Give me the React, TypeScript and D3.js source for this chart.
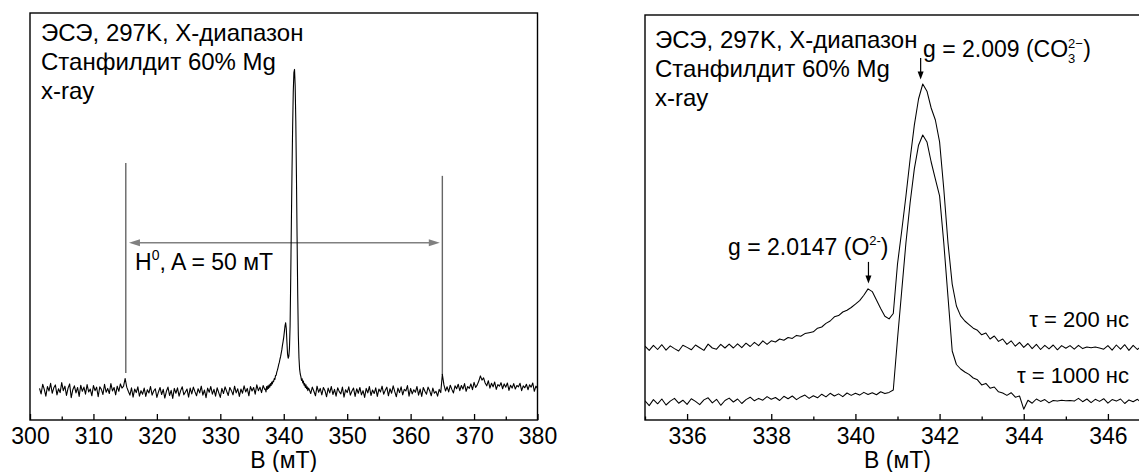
import { useEffect, useRef } from "react";
import * as d3 from "d3";

// ---- left spectrum: 300..380 mT, wide scan ----
// noise before the signal, 301.5..337.0 step 0.25
const leftLowStart = 301.5;
const leftLow = [
  0.5, -1.2, 1.8, 0.2, -1.9, 1.1, -0.3, 2.1, -1.0, 0.7, 1.6, -1.5, 0.4, -0.8, 2.3, -0.2,
  1.2, -1.7, 0.6, 1.9, -2.4, 0.1, 1.3, -0.9, 0.8, -2.0, 1.5, -0.4, 0.9, -1.3, 1.7, -0.6,
  0.3, -1.8, 1.4, -0.2, 0.9, -2.1, 1.0, 0.2, -1.4, 1.8, -0.7, 0.5, -1.1, 2.0, -0.3, 0.8,
  -1.5, 1.2, -0.4, 1.9, 0.6, 1.2, 3.6, 0.9, -0.4, -1.6, 0.7, -2.2, 0.3, -0.8, 1.0, -1.9,
  -0.2, -1.3, 0.6, -2.0, 0.1, -0.9, 1.1, -1.6, -0.3, 0.4, -2.3, -0.6, 0.8, -1.4, 0.2, -2.5,
  -0.4, 0.9, -1.7, -0.1, -2.6, 0.5, -1.0, 0.7, -1.9, -0.2, 1.0, -1.5, -0.6, 0.3, -2.2, 0.6,
  -1.2, 0.9, -0.5, -1.8, 0.4, -0.9, 1.2, -1.6, 0.0, -2.4, 0.6, -0.7, 1.1, -1.3, 0.2, -1.9,
  0.7, -0.8, -2.3, 0.5, -1.1, 1.0, -0.4, -1.7, 0.8, -0.2, -1.5, 1.2, -0.9, 0.4, -2.0, 0.3,
  -1.0, 1.3, -0.6, 0.5, -1.8, 1.1, -0.3, 0.8, -1.3, 1.6, -0.2, 0.9, -0.8, 1.4, 0.2,
];
// signal region, 337.1..343.9 step 0.1
const leftPeakStart = 337.1;
const leftPeak = [
  0.3, -0.6, 1.1, 0.2, 1.3, 0.5, 1.6, 0.9, 2.0,
  1.4, 2.5, 1.9, 2.8, 2.6, 3.6, 3.3, 4.5, 4.6, 5.6,
  6.2, 7.0, 7.9, 8.6, 9.6, 10.4, 11.5, 12.6, 14.0, 15.2,
  16.5, 18.2, 20.0, 21.0, 19.2, 15.0, 11.2, 9.9, 10.5, 13.0,
  20.0, 35.0, 52.0, 68.0, 82.0, 93.0, 99.0, 100.0, 95.0, 84.0,
  67.0, 48.0, 30.0, 17.0, 10.0, 6.5, 5.0, 4.2, 3.0, 3.5,
  2.2, 2.8, 1.5, 2.0, 0.8, 1.6, 0.4, 1.0, -0.2, 0.6,
];
// noise after the signal, 344.0..380.0 step 0.25
const leftHighStart = 344.0;
const leftHigh = [
  0.3, -1.1, 0.9, -0.4, -1.8, 1.2, -0.7, 0.5, -1.5, 0.8, -0.2, -2.1, 0.6, -0.9, 1.1, -1.4,
  0.2, -1.9, 0.7, -0.5, -1.2, 0.9, -2.2, 0.1, -0.8, 1.0, -1.6, -0.3, 0.6, -2.0, 0.4, -1.0,
  0.8, -1.5, -0.2, -2.3, 0.5, -0.9, 1.1, -1.7, 0.0, -1.1, 0.7, -2.0, 0.3, -0.6, 1.2, -1.3,
  -0.1, 0.9, -1.8, 0.4, -1.0, 1.3, -0.5, -2.1, 0.6, -0.8, 1.0, -1.5, 0.2, -0.3, 1.4, -1.9,
  0.5, -1.2, 0.1, -0.7, 1.1, -1.6, 0.3, -2.0, 0.8, -0.4, -1.3, 0.9, -0.2, -1.8, 0.6, -1.0,
  -0.4, -1.9, 0.2, -0.8, 4.9, 1.6, -0.3, 1.0, -0.6, 1.5, 0.2, -0.9, 1.3, 0.4, 1.8, -0.2,
  1.4, 0.3, 2.0, -0.4, 1.1, 0.5, 1.9, 0.1, 2.4, 0.8, 1.6, 2.8, 4.4, 3.1, 3.8, 2.2,
  1.3, 2.9, 0.6, 2.1, 1.0, 2.5, 0.2, 1.7, 1.2, 2.3, 0.4, 1.9, 0.9, 2.2, -0.1, 1.5,
  0.6, 2.0, 0.3, 1.4, 1.0, 2.1, -0.2, 1.3, 0.7, 1.8, 0.1, 1.6, 0.9, 2.2, -0.4, 1.2, 0.5,
];
const leftTicks = [300, 310, 320, 330, 340, 350, 360, 370, 380];
const leftMinor = [305, 315, 325, 335, 345, 355, 365, 375];
// H0 doublet markers: field, top, bottom (intensity units)
const h0Lines = [
  { b: 315.1, top: 70.8, bottom: 5.3 },
  { b: 365.0, top: 66.8, bottom: 4.7 },
];
const h0Arrow = { from: 315.6, to: 364.6, level: 45.9 };

// ---- right spectrum: 335..347 mT, echo-detected, two delays ----
const rightStart = 335.0;
const tau200 = [
  18.6, 17.2, 18.9, 17.5, 19.1, 17.3, 18.7, 17.8, 17.0, 18.9,
  18.2, 17.4, 19.0, 18.1, 17.2, 19.3, 18.0, 17.6, 19.2, 18.0,
  19.3, 18.0, 19.4, 18.1, 19.6, 18.5, 19.9, 18.8, 20.4, 19.2,
  20.4, 20.0, 21.0, 20.6, 21.5, 21.2, 22.2, 21.9, 22.8, 23.1,
  23.4, 24.6, 25.0, 26.2, 27.0, 28.4, 28.8, 30.0, 30.6, 31.5,
  32.6, 33.8, 35.6, 37.7, 36.8, 34.0, 31.2, 28.6, 27.7, 29.5,
  46.0, 57.0, 68.6, 81.0, 92.3, 101.0, 106.0, 103.6, 98.0, 94.0,
  86.7, 71.0, 53.0, 39.3, 32.0, 28.7, 27.0, 25.8, 24.6, 23.9,
  22.4, 23.0, 21.0, 22.0, 20.2, 21.0, 19.2, 20.4, 18.6, 19.9,
  18.2, 19.5, 17.8, 19.2, 17.5, 18.9, 17.7, 19.0, 17.4, 18.8,
  17.9, 18.8, 17.6, 18.9, 17.8, 18.3, 18.1, 18.3, 18.0, 17.6,
  18.8, 17.3, 19.0, 17.6, 19.1, 17.2, 18.9, 17.5, 18.7,
];
const tau1000 = [
  0.4, -1.2, 0.8, -0.6, 1.0, -1.0, 0.3, 1.2, -0.4, 0.6,
  -0.8, 1.1, 0.2, -0.9, 0.7, 1.4, -0.3, 0.9, -1.1, 0.5,
  1.3, 0.0, 1.0, -0.5, 0.8, 1.6, 0.4, 1.2, 0.6, 1.8,
  0.9, 1.5, 0.5, 1.9, 1.1, 2.0, 0.8, 1.7, 2.3, 1.2,
  2.1, 1.4, 2.6, 1.7, 2.9, 2.0, 2.7, 1.8, 3.0, 2.2,
  2.9, 2.3, 3.2, 2.5, 3.1, 2.4, 3.4, 2.8, 3.2, 4.0,
  21.0, 37.0, 53.0, 66.4, 77.7, 85.6, 89.0, 86.7, 80.0, 74.3,
  68.7, 53.0, 35.0, 17.0, 12.5, 11.0, 10.0, 9.2, 8.0, 7.4,
  5.7, 6.2, 4.6, 5.0, 3.4, 3.0, 2.2, 3.1, 1.6, 2.0,
  -2.4, 0.6, -0.4, 1.0, 0.2, 0.8, -0.3, 0.5, 0.3, 0.6,
  0.4, 0.5, 0.3, 1.2, 0.1, 1.0, -0.2, 0.9, 0.2, 1.1,
  -0.4, 0.8, 0.3, 1.0, -0.5, 0.7, 0.1, 0.9, -0.2,
];
const rightTicks = [336, 338, 340, 342, 344, 346];
const rightMinor = [335, 337, 339, 341, 343, 345, 347];
const peakCO3 = { b: 341.55, top: 114.7, tip: 107.5 };
const peakO = { b: 340.31, top: 46.7, tip: 39.5 };

const W = 1139;
const H = 472;
const FONT = "'Liberation Sans', Arial, sans-serif";
const FS = 23;
const FS_BLOCK = 24;

function series(start: number, step: number, vals: number[]): [number, number][] {
  return vals.map((v, i) => [+(start + i * step).toFixed(2), v]);
}

function drawAxis(g: any, x: any, y0: number, major: number[], minor: number[]) {
  g.append("g")
    .attr("transform", `translate(0,${y0})`)
    .call(d3.axisBottom(x).tickValues(minor).tickSize(-3.5).tickFormat(() => ""))
    .call((a: any) => a.select(".domain").remove())
    .selectAll("line")
    .attr("stroke-width", 1.3);
  const ax = g
    .append("g")
    .attr("transform", `translate(0,${y0})`)
    .call(d3.axisBottom(x).tickValues(major).tickSize(-6).tickPadding(8).tickFormat(d3.format("d")));
  ax.select(".domain").remove();
  ax.selectAll("line").attr("stroke-width", 1.3);
  ax.selectAll("text").attr("font-size", FS).attr("font-family", FONT).attr("fill", "#000");
}

function arrowDown(g: any, x: number, yTop: number, yTip: number) {
  g.append("line")
    .attr("x1", x).attr("x2", x).attr("y1", yTop).attr("y2", yTip - 6)
    .attr("stroke", "#000").attr("stroke-width", 1.2);
  g.append("path")
    .attr("d", `M${x - 3},${yTip - 8} L${x + 3},${yTip - 8} L${x},${yTip} Z`)
    .attr("fill", "#000");
}

function textLines(g: any, x: number, y: number, lines: string[], gap: number) {
  lines.forEach((s, i) => {
    g.append("text")
      .attr("x", x).attr("y", y + i * gap)
      .attr("font-size", FS_BLOCK).attr("font-family", FONT)
      .text(s);
  });
}

export default function App() {
  const ref = useRef<SVGSVGElement>(null);

  useEffect(() => {
    const svg = d3.select(ref.current);
    svg.selectAll("*").remove();

    // ---------- left panel ----------
    const L = { x0: 30, x1: 537.5, y0: 13, y1: 420 };
    const xL = d3.scaleLinear().domain([300, 380]).range([L.x0, L.x1]);
    const yL = d3.scaleLinear().domain([-9.35, 117.6]).range([L.y1, L.y0]);
    const gl = svg.append("g");

    gl.append("clipPath").attr("id", "clipL")
      .append("rect").attr("x", L.x0).attr("y", L.y0)
      .attr("width", L.x1 - L.x0).attr("height", L.y1 - L.y0);

    const leftData = [
      ...series(leftLowStart, 0.25, leftLow),
      ...series(leftPeakStart, 0.1, leftPeak),
      ...series(leftHighStart, 0.25, leftHigh),
    ];
    const lineL = d3.line<[number, number]>().x((d) => xL(d[0])).y((d) => yL(d[1]));

    // H0 markers
    h0Lines.forEach((h) => {
      gl.append("line")
        .attr("x1", xL(h.b)).attr("x2", xL(h.b))
        .attr("y1", yL(h.top)).attr("y2", yL(h.bottom))
        .attr("stroke", "#666").attr("stroke-width", 1.4);
    });
    const ay = yL(h0Arrow.level);
    const ax1 = xL(h0Arrow.from);
    const ax2 = xL(h0Arrow.to);
    gl.append("line")
      .attr("x1", ax1 + 8).attr("x2", ax2 - 8).attr("y1", ay).attr("y2", ay)
      .attr("stroke", "#808080").attr("stroke-width", 1.5);
    gl.append("path")
      .attr("d", `M${ax1},${ay} L${ax1 + 11},${ay - 3.5} L${ax1 + 11},${ay + 3.5} Z M${ax2},${ay} L${ax2 - 11},${ay - 3.5} L${ax2 - 11},${ay + 3.5} Z`)
      .attr("fill", "#808080");

    gl.append("path")
      .datum(leftData)
      .attr("clip-path", "url(#clipL)")
      .attr("d", lineL)
      .attr("fill", "none")
      .attr("stroke", "#000")
      .attr("stroke-width", 1.1)
      .attr("stroke-linejoin", "round");

    gl.append("rect")
      .attr("x", L.x0).attr("y", L.y0)
      .attr("width", L.x1 - L.x0).attr("height", L.y1 - L.y0)
      .attr("fill", "none").attr("stroke", "#000").attr("stroke-width", 1.4);

    drawAxis(gl, xL, L.y1, leftTicks, leftMinor);

    textLines(gl, 41, 41, ["ЭСЭ, 297K, X-диапазон", "Станфилдит 60% Mg", "x-ray"], 29);

    const th = gl.append("text")
      .attr("x", 135).attr("y", 270)
      .attr("font-size", FS).attr("font-family", FONT);
    th.append("tspan").text("H");
    th.append("tspan").attr("font-size", 14).attr("dy", -10).text("0");
    th.append("tspan").attr("dy", 10).text(", A = 50 мТ");

    gl.append("text")
      .attr("x", (L.x0 + L.x1) / 2).attr("y", 468)
      .attr("text-anchor", "middle")
      .attr("font-size", FS).attr("font-family", FONT)
      .text("B (мТ)");

    // ---------- right panel ----------
    const R = { x0: 645, x1: 1150, y0: 15, y1: 420 };
    const xR = d3.scaleLinear().domain([335, 347]).range([R.x0, R.x1]);
    const yR = d3.scaleLinear().domain([-6, 129]).range([R.y1, R.y0]);
    const gr = svg.append("g");

    gr.append("clipPath").attr("id", "clipR")
      .append("rect").attr("x", R.x0).attr("y", R.y0)
      .attr("width", R.x1 - R.x0).attr("height", R.y1 - R.y0);

    const lineR = d3.line<[number, number]>().x((d) => xR(d[0])).y((d) => yR(d[1]));
    [tau200, tau1000].forEach((vals) => {
      gr.append("path")
        .datum(series(rightStart, 0.1, vals))
        .attr("clip-path", "url(#clipR)")
        .attr("d", lineR)
        .attr("fill", "none")
        .attr("stroke", "#000")
        .attr("stroke-width", 1.05)
        .attr("stroke-linejoin", "round");
    });

    gr.append("rect")
      .attr("x", R.x0).attr("y", R.y0)
      .attr("width", R.x1 - R.x0).attr("height", R.y1 - R.y0)
      .attr("fill", "none").attr("stroke", "#000").attr("stroke-width", 1.4);

    drawAxis(gr, xR, R.y1, rightTicks, rightMinor);

    textLines(gr, 655, 48, ["ЭСЭ, 297K, X-диапазон", "Станфилдит 60% Mg", "x-ray"], 29);

    // g = 2.009 (CO3 2-)
    arrowDown(gr, xR(peakCO3.b), yR(peakCO3.top), yR(peakCO3.tip));
    const tc = gr.append("text")
      .attr("x", 923).attr("y", 57)
      .attr("font-size", FS).attr("font-family", FONT);
    tc.append("tspan").text("g = 2.009 (CO");
    tc.append("tspan").attr("font-size", 13).attr("dy", -9).text("2−");
    tc.append("tspan").attr("font-size", 13).attr("dx", -15).attr("dy", 15).text("3");
    tc.append("tspan").attr("dx", 8).attr("dy", -6).text(")");

    // g = 2.0147 (O2-)
    arrowDown(gr, xR(peakO.b), yR(peakO.top), yR(peakO.tip));
    const to = gr.append("text")
      .attr("x", 728).attr("y", 255)
      .attr("font-size", FS).attr("font-family", FONT);
    to.append("tspan").text("g = 2.0147 (O");
    to.append("tspan").attr("font-size", 13).attr("dy", -10).text("2-");
    to.append("tspan").attr("dy", 10).text(")");

    gr.append("text")
      .attr("x", 1129).attr("y", 327).attr("text-anchor", "end")
      .attr("font-size", 22).attr("font-family", FONT)
      .text("τ = 200 нс");
    gr.append("text")
      .attr("x", 1129).attr("y", 383).attr("text-anchor", "end")
      .attr("font-size", 22).attr("font-family", FONT)
      .text("τ = 1000 нс");

    gr.append("text")
      .attr("x", (R.x0 + R.x1) / 2).attr("y", 468)
      .attr("text-anchor", "middle")
      .attr("font-size", FS).attr("font-family", FONT)
      .text("B (мТ)");
  }, []);

  return (
    <svg
      ref={ref}
      width={W}
      height={H}
      style={{ position: "absolute", left: 0, top: 0, background: "#fff" }}
    />
  );
}
